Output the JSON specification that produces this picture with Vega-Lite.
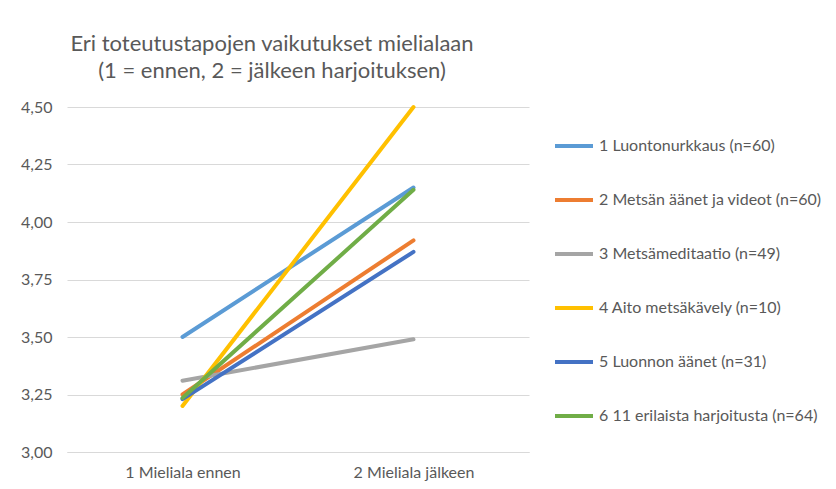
{
  "$schema": "https://vega.github.io/schema/vega-lite/v6.json",
  "autosize": {"type": "none"},
  "width": 462,
  "height": 345,
  "padding": {"left": 67, "top": 107, "right": 307, "bottom": 37},
  "background": "white",
  "title": {
    "text": ["Eri toteutustapojen vaikutukset mielialaan", "(1 = ennen, 2 = jälkeen harjoituksen)"],
    "font": "Lato",
    "fontSize": 22,
    "fontWeight": "normal",
    "color": "#595959",
    "anchor": "middle",
    "baseline": "alphabetic",
    "lineHeight": 27,
    "offset": -1,
    "dx": -26
  },
  "data": {
    "values": [
      {"vaihe": "1 Mieliala ennen", "ryhma": "1 Luontonurkkaus (n=60)", "arvo": 3.50},
      {"vaihe": "2 Mieliala jälkeen", "ryhma": "1 Luontonurkkaus (n=60)", "arvo": 4.15},
      {"vaihe": "1 Mieliala ennen", "ryhma": "2 Metsän äänet ja videot (n=60)", "arvo": 3.25},
      {"vaihe": "2 Mieliala jälkeen", "ryhma": "2 Metsän äänet ja videot (n=60)", "arvo": 3.92},
      {"vaihe": "1 Mieliala ennen", "ryhma": "3 Metsämeditaatio (n=49)", "arvo": 3.31},
      {"vaihe": "2 Mieliala jälkeen", "ryhma": "3 Metsämeditaatio (n=49)", "arvo": 3.49},
      {"vaihe": "1 Mieliala ennen", "ryhma": "4 Aito metsäkävely (n=10)", "arvo": 3.20},
      {"vaihe": "2 Mieliala jälkeen", "ryhma": "4 Aito metsäkävely (n=10)", "arvo": 4.50},
      {"vaihe": "1 Mieliala ennen", "ryhma": "5 Luonnon äänet (n=31)", "arvo": 3.23},
      {"vaihe": "2 Mieliala jälkeen", "ryhma": "5 Luonnon äänet (n=31)", "arvo": 3.87},
      {"vaihe": "1 Mieliala ennen", "ryhma": "6 11 erilaista harjoitusta (n=64)", "arvo": 3.235},
      {"vaihe": "2 Mieliala jälkeen", "ryhma": "6 11 erilaista harjoitusta (n=64)", "arvo": 4.14}
    ]
  },
  "mark": {"type": "line", "strokeWidth": 4, "strokeCap": "round"},
  "encoding": {
    "x": {
      "field": "vaihe",
      "type": "nominal",
      "scale": {"type": "point", "padding": 0.5},
      "axis": {
        "title": null,
        "labelAngle": 0,
        "ticks": false,
        "domain": true,
        "domainColor": "#d9d9d9",
        "labelFont": "Lato",
        "labelFontSize": 16,
        "labelColor": "#595959",
        "labelPadding": 12,
        "grid": false
      }
    },
    "y": {
      "field": "arvo",
      "type": "quantitative",
      "scale": {"domain": [3, 4.5], "nice": false, "zero": false},
      "axis": {
        "title": null,
        "values": [3, 3.25, 3.5, 3.75, 4, 4.25, 4.5],
        "labelExpr": "replace(format(datum.value, '.2f'), '.', ',')",
        "ticks": false,
        "domain": false,
        "gridColor": "#d9d9d9",
        "gridWidth": 1,
        "labelFont": "Lato",
        "labelFontSize": 16,
        "labelColor": "#595959",
        "labelPadding": 15
      }
    },
    "color": {
      "field": "ryhma",
      "type": "nominal",
      "scale": {
        "domain": ["1 Luontonurkkaus (n=60)", "2 Metsän äänet ja videot (n=60)", "3 Metsämeditaatio (n=49)", "4 Aito metsäkävely (n=10)", "5 Luonnon äänet (n=31)", "6 11 erilaista harjoitusta (n=64)"],
        "range": ["#5B9BD5", "#ED7D31", "#A5A5A5", "#FFC000", "#4472C4", "#70AD47"]
      },
      "legend": {
        "title": null,
        "orient": "none",
        "legendX": 486,
        "legendY": 18,
        "padding": 0,
        "symbolType": "stroke",
        "symbolSize": 1444,
        "symbolStrokeWidth": 4,
        "labelFont": "Lato",
        "labelFontSize": 16,
        "labelColor": "#595959",
        "labelOffset": 4,
        "rowPadding": 25,
        "labelLimit": 300
      }
    }
  },
  "config": {
    "view": {"stroke": null}
  }
}
